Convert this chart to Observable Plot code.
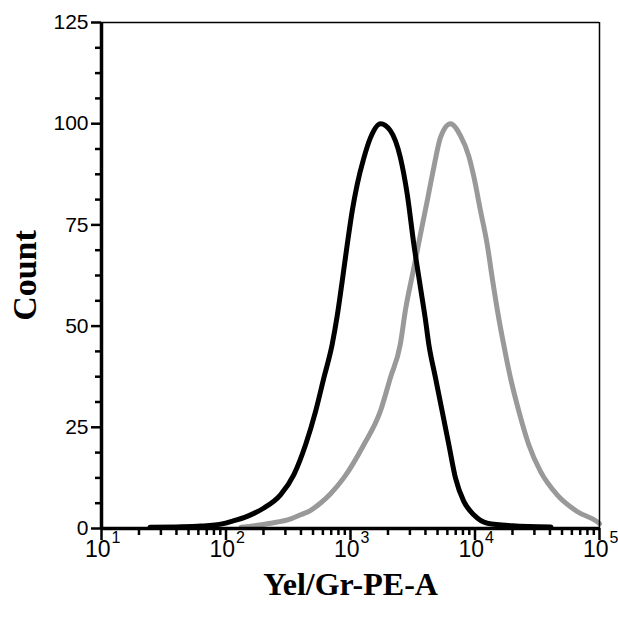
<!DOCTYPE html>
<html>
<head>
<meta charset="utf-8">
<script src="https://cdn.jsdelivr.net/npm/d3@7"></script>
<script src="https://cdn.jsdelivr.net/npm/@observablehq/plot@0.6"></script>
<style>
  html, body { margin: 0; padding: 0; background: #fff; }
</style>
</head>
<body>
<div id="chart"></div>
<script>
// Black histogram (control)
const blackX = [24.5, 40, 63, 95, 109, 148, 200, 274, 351, 437, 525, 611, 713, 782, 857, 940, 1033, 1132, 1279, 1445, 1742, 2089, 2512, 2851, 3228, 3648, 3981, 4256, 4819, 5445, 6166, 6966, 8128, 9772, 12590, 19950, 40740];
const blackY = [0.3, 0.4, 0.6, 1.2, 1.7, 3.0, 5.0, 8.3, 13.3, 20.8, 29, 37.2, 45.5, 52.5, 61, 70, 78.5, 85, 91.5, 96.5, 100, 98.3, 91.7, 82.7, 70.2, 59.5, 52, 45.5, 37.2, 29, 20.7, 12.5, 6.7, 3.4, 1.3, 0.7, 0.4];
// Gray histogram (stained)
const grayX = [132, 229, 331, 398, 479, 575, 692, 883, 1279, 1738, 2089, 2512, 2754, 3228, 3648, 4130, 4667, 5284, 6353, 7656, 8913, 9772, 11070, 12530, 13740, 15310, 16980, 19280, 22490, 27040, 33570, 45710, 66070, 95500, 100000];
const grayY = [0.3, 1.3, 2.4, 3.4, 4.5, 6.3, 8.6, 12.5, 20.7, 29, 37.2, 45.5, 53.7, 64.4, 72.7, 80.9, 89.2, 96.6, 100, 97, 92, 87, 78.5, 70.2, 62, 53, 45.5, 37.2, 29, 20.7, 14.1, 8.3, 4.2, 1.7, 1.2];

const yMajor = [0, 25, 50, 75, 100, 125];
const yMinor = [6.25, 12.5, 18.75, 31.25, 37.5, 43.75, 56.25, 62.5, 68.75, 81.25, 87.5, 93.75, 106.25, 112.5, 118.75];
const xMajor = [10, 100, 1000, 10000, 100000];
const xExp = ["1", "2", "3", "4", "5"];
const xMinorMult = [2, 3, 4, 5, 6, 7, 8, 9];
const xTitle = "Yel/Gr-PE-A";
const yTitle = "Count";

const black = blackX.map((x, i) => ({x, y: blackY[i]}));
const gray = grayX.map((x, i) => ({x, y: grayY[i]}));
const xMinor = xMajor.slice(0, -1).flatMap(d => xMinorMult.map(m => d * m));
const xLabels = xMajor.map((v, i) => ({v, e: xExp[i]}));

const sans = "'Liberation Sans', Arial, sans-serif";
const serif = "'Liberation Serif', 'Times New Roman', serif";

const chart = Plot.plot({
  width: 618,
  height: 621,
  marginLeft: 101,
  marginRight: 19,
  marginTop: 22,
  marginBottom: 93,
  style: {fontFamily: sans, background: "#fff", color: "#000"},
  x: {type: "log", domain: [10, 100000]},
  y: {domain: [0, 125]},
  marks: [
    Plot.line(gray, {x: "x", y: "y", stroke: "#999999", strokeWidth: 5, curve: "monotone-x"}),
    Plot.line(black, {x: "x", y: "y", stroke: "#000000", strokeWidth: 5, curve: "monotone-x"}),
    Plot.ruleY([125], {stroke: "#000", strokeWidth: 1.5}),
    Plot.ruleX([100000], {stroke: "#000", strokeWidth: 1.5}),
    Plot.ruleX([10], {stroke: "#000", strokeWidth: 3.5}),
    Plot.ruleY([0], {stroke: "#000", strokeWidth: 3.5}),
    Plot.axisY({ticks: yMajor, tickSize: 10, tickPadding: 3, tickFormat: d => String(d), label: null, fontSize: 21, strokeWidth: 2.5}),
    Plot.axisY({ticks: yMinor, tickSize: 6, tickFormat: () => "", label: null, strokeWidth: 2.5}),
    Plot.axisX({ticks: xMajor, tickSize: 12, tickFormat: () => "", label: null, strokeWidth: 2.5}),
    Plot.axisX({ticks: xMinor, tickSize: 7, tickFormat: () => "", label: null, strokeWidth: 2.5}),
    Plot.text(xLabels, {x: "v", frameAnchor: "bottom", text: () => "10", textAnchor: "end", dx: 9, dy: 21, fontSize: 23, lineAnchor: "middle"}),
    Plot.text(xLabels, {x: "v", frameAnchor: "bottom", text: "e", textAnchor: "start", dx: 10, dy: 9, fontSize: 16, lineAnchor: "middle"}),
    Plot.text([xTitle], {frameAnchor: "bottom", text: d => d, dy: 56, fontSize: 32, fontWeight: "bold", fontFamily: serif, lineAnchor: "middle", textAnchor: "middle"}),
    Plot.text([yTitle], {frameAnchor: "left", text: d => d, dx: -76, rotate: -90, fontSize: 34, fontWeight: "bold", fontFamily: serif, lineAnchor: "middle", textAnchor: "middle"})
  ]
});
document.getElementById("chart").appendChild(chart);
</script>
</body>
</html>
